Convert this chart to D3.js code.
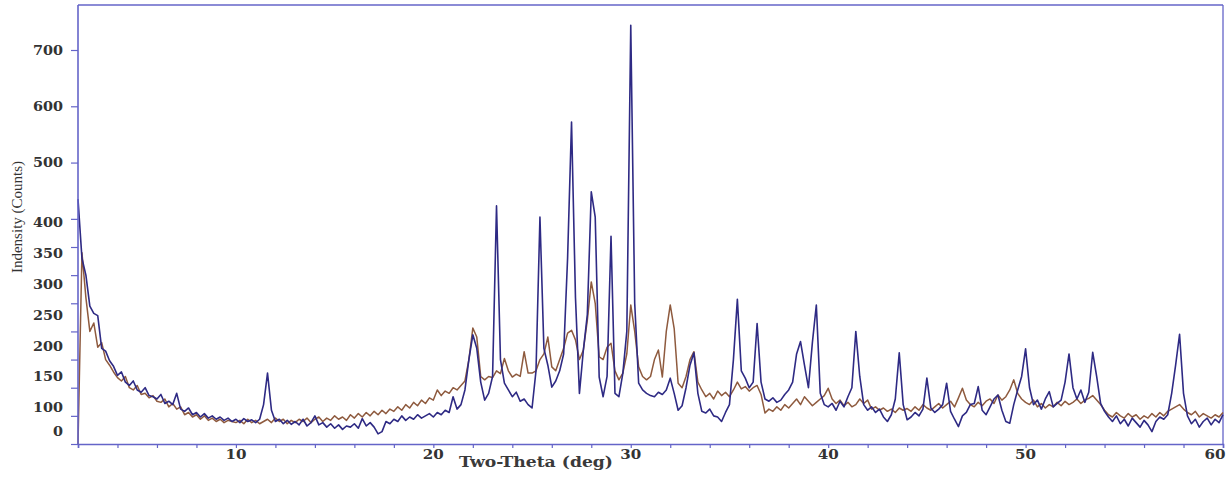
<!DOCTYPE html>
<html>
<head>
<meta charset="utf-8">
<script src="https://cdn.jsdelivr.net/npm/d3@7"></script>
<style>
  html, body { margin: 0; padding: 0; background: #fff; }
  svg { display: block; }
</style>
</head>
<body>
<svg id="chart" width="1229" height="477"></svg>
<script>
// ---- data ----
const twoThetaStart = 2.0;   // deg, first sample
const twoThetaStep = 0.2;    // deg, sampling interval

// blue / navy pattern
const seriesBlue = [
  435,330,300,245,232,228,170,165,148,138,
  122,128,110,104,112,96,92,100,86,84,
  80,88,72,76,70,90,62,58,64,52,
  56,48,54,46,50,44,48,42,46,40,
  44,38,45,40,43,38,44,70,126,60,
  40,44,36,42,35,40,34,44,32,38,
  50,34,38,30,36,28,34,26,32,30,
  36,28,45,32,38,30,18,22,40,36,
  44,40,50,42,48,44,52,46,50,54,
  48,56,52,60,56,84,62,70,96,150,
  194,170,110,78,90,120,423,150,108,96,
  84,92,76,80,70,64,130,403,170,140,
  101,112,130,160,330,572,260,90,167,230,
  448,403,119,84,120,369,90,84,126,200,
  744,250,108,96,90,86,84,92,88,96,
  117,90,60,68,100,140,162,90,58,55,
  62,50,48,40,56,70,150,257,130,117,
  100,110,214,110,80,76,82,74,78,88,
  96,110,160,182,140,100,180,247,90,70,
  66,72,60,76,66,84,100,200,120,70,
  60,66,56,62,48,40,52,80,162,70,
  43,48,56,50,62,117,64,56,62,70,
  108,58,44,31,50,56,70,72,102,60,
  52,66,80,87,60,40,37,70,96,120,
  169,100,70,78,62,80,93,66,72,78,
  110,160,100,80,96,74,92,163,120,72,
  58,48,40,50,36,44,32,46,38,30,
  42,34,22,40,48,44,52,90,140,195,
  90,50,36,44,30,40,46,34,44,38,
  52
];

// brown pattern
const seriesBrown = [
  0,340,260,200,215,172,180,150,140,128,
  118,112,120,100,96,104,88,90,82,86,
  76,74,80,66,72,62,66,52,56,48,
  52,44,50,42,46,40,44,38,42,40,
  38,42,36,44,38,42,36,40,44,38,
  46,40,44,36,42,38,44,40,46,38,
  44,48,40,46,42,50,44,48,42,52,
  46,54,48,56,50,58,52,60,54,62,
  58,66,60,70,64,74,68,78,72,82,
  78,96,86,94,90,100,96,104,112,150,
  206,190,120,114,120,118,130,125,152,130,
  119,124,120,164,126,126,130,150,160,190,
  137,130,150,170,197,202,185,150,167,220,
  288,250,155,150,172,179,130,114,126,160,
  247,200,137,120,114,120,150,167,119,200,
  247,205,108,100,120,150,164,110,96,84,
  90,80,94,86,92,84,96,110,98,102,
  94,100,104,88,55,62,58,66,60,70,
  64,72,80,70,84,76,68,74,80,86,
  99,80,72,78,68,74,66,70,80,72,
  78,62,66,60,64,58,62,56,64,60,
  63,58,66,60,70,64,60,66,72,64,
  70,76,66,82,99,78,70,66,74,68,
  76,80,72,87,78,84,96,114,90,80,
  74,70,78,66,72,64,70,66,74,68,
  76,70,74,80,72,78,81,86,78,70,
  60,52,48,56,50,46,54,48,52,44,
  50,46,54,48,56,50,58,62,66,70,
  62,56,52,58,48,54,50,46,52,48,
  56
];

const xTickValues = [2,4,6,8,10,12,14,16,18,20,22,24,26,28,30,32,34,36,38,40,42,44,46,48,50,52,54,56,58,60];
const xTickLabels = [10,20,30,40,50,60];
const yTickValues = [0,50,100,150,200,250,300,350,400,500,600,700];
const yTickLabels = [0,100,150,200,250,300,350,400,500,600,700];
const xTitle = "Two-Theta (deg)";
const yTitle = "Indensity (Counts)";

// ---- drawing ----
(function () {
const svg = d3.select("#chart");
const W = 1229, H = 477;
const mLeft = 78, mRight = 1223, mTop = 5, mBottom = 444;

const x = d3.scaleLinear().domain([2, 60]).range([mLeft, mRight]);
const y = d3.scaleLinear().domain([0, 700]).range([mBottom, 50]);
// tick labels in the original sit slightly off their ticks
const labelShift = d3.scaleLinear().domain([0, 100, 400, 500, 700]).range([-13, 20, 4, 0, 0]);

const axisColor = "#6464c8";
const labelColor = "#333";

const toPoints = arr => arr.map((v, i) => [twoThetaStart + i * twoThetaStep, v]);
const line = d3.line().x(d => x(d[0])).y(d => y(d[1]));

// frame
svg.append("line").attr("x1", mLeft).attr("x2", mRight).attr("y1", mTop).attr("y2", mTop)
  .attr("stroke", axisColor).attr("stroke-width", 1.3);
svg.append("line").attr("x1", mRight).attr("x2", mRight).attr("y1", mTop).attr("y2", mBottom)
  .attr("stroke", axisColor).attr("stroke-width", 1.3);

// series
svg.append("path").datum(toPoints(seriesBrown))
  .attr("d", line).attr("fill", "none")
  .attr("stroke", "#8e5a3e").attr("stroke-width", 1.5).attr("stroke-linejoin", "round");
svg.append("path").datum(toPoints(seriesBlue))
  .attr("d", line).attr("fill", "none")
  .attr("stroke", "#2e2a84").attr("stroke-width", 1.6).attr("stroke-linejoin", "round");

// x axis
const xAxis = d3.axisBottom(x).tickValues(xTickValues).tickSize(4).tickFormat("");
const gx = svg.append("g").attr("transform", `translate(0,${mBottom})`).call(xAxis);
gx.select(".domain").attr("stroke", axisColor).attr("stroke-width", 1.6);
gx.selectAll(".tick line").attr("stroke", axisColor).attr("stroke-width", 1.2);

svg.append("g").selectAll("text").data(xTickLabels).join("text")
  .attr("x", d => Math.min(x(d), W - 14))
  .attr("y", 459)
  .attr("text-anchor", "middle")
  .attr("font-family", "DejaVu Serif")
  .attr("font-size", 12)
  .attr("font-weight", "bold")
  .attr("fill", labelColor)
  .attr("textLength", d => String(d).length * 10.5)
  .attr("lengthAdjust", "spacingAndGlyphs")
  .text(d => d);

// y axis
const yAxis = d3.axisLeft(y).tickValues(yTickValues).tickSize(7).tickFormat("");
const gy = svg.append("g").attr("transform", `translate(${mLeft},0)`).call(yAxis);
gy.select(".domain").attr("stroke", axisColor).attr("stroke-width", 1.6)
  .attr("d", `M0,${mTop}V${mBottom}`);
gy.selectAll(".tick line").attr("stroke", axisColor).attr("stroke-width", 1.2);

svg.append("g").selectAll("text").data(yTickLabels).join("text")
  .attr("x", 63)
  .attr("y", d => y(d) + labelShift(d) + 4.5)
  .attr("text-anchor", "end")
  .attr("font-family", "DejaVu Serif")
  .attr("font-size", 12)
  .attr("font-weight", "bold")
  .attr("fill", labelColor)
  .attr("textLength", d => String(d).length * 10)
  .attr("lengthAdjust", "spacingAndGlyphs")
  .text(d => d);

// titles
svg.append("text")
  .attr("x", 459).attr("y", 467)
  .attr("font-family", "DejaVu Serif")
  .attr("font-size", 14)
  .attr("font-weight", "bold")
  .attr("fill", "#3a3a3a")
  .attr("textLength", 154)
  .attr("lengthAdjust", "spacingAndGlyphs")
  .text(xTitle);

svg.append("text")
  .attr("transform", `translate(22,217) rotate(-90)`)
  .attr("text-anchor", "middle")
  .attr("font-family", "Liberation Serif")
  .attr("font-size", 15)
  .attr("fill", "#333")
  .text(yTitle);
})();
</script>
</body>
</html>
